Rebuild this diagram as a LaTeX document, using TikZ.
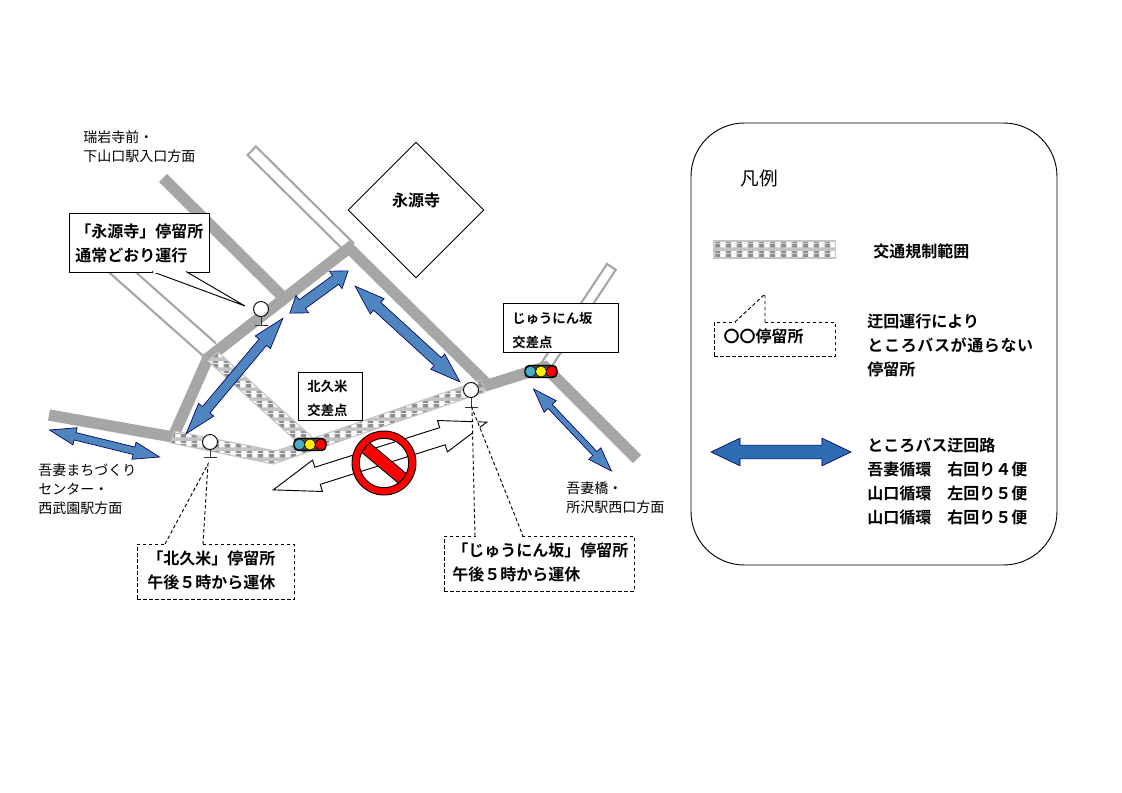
\documentclass[tikz,border=0pt]{standalone}
\usepackage{fontspec}
\setmainfont{Noto Sans CJK JP}[BoldFont=* Bold]
\usetikzlibrary{shapes.arrows, shapes.geometric, patterns, calc, positioning}
\definecolor{roadgray}{HTML}{A6A6A6}
\definecolor{checkgray}{HTML}{C4C4C4}
\definecolor{checkdark}{HTML}{8E8E8E}
\definecolor{detourblue}{HTML}{4F86C0}
\definecolor{legendblue}{HTML}{2E6DB4}
\definecolor{lampblue}{HTML}{4BACC6}
\pgfdeclarepatterninherentlycolored{roadcheck}{\pgfpointorigin}{\pgfpoint{8pt}{7.5pt}}{\pgfpoint{8pt}{7.5pt}}{
	\pgfsetfillcolor{checkgray}
	\pgfpathrectangle{\pgfpointorigin}{\pgfpoint{8pt}{7.5pt}}
	\pgfusepath{fill}
	\pgfsetfillcolor{checkdark}
	\pgfpathrectangle{\pgfpoint{0.2pt}{4.5pt}}{\pgfpoint{3.6pt}{3pt}}
	\pgfpathrectangle{\pgfpoint{0.2pt}{0pt}}{\pgfpoint{3.6pt}{1.5pt}}
	\pgfusepath{fill}
	\pgfsetfillcolor{white}
	\pgfpathrectangle{\pgfpoint{4.2pt}{4.5pt}}{\pgfpoint{3.6pt}{3pt}}
	\pgfpathrectangle{\pgfpoint{4.2pt}{0pt}}{\pgfpoint{3.6pt}{1.5pt}}
	\pgfusepath{fill}
}
\tikzset{
	road/.style={line width=8.5pt, roadgray, line join=miter},
	sideroad/.style={line width=#1, roadgray, postaction={draw, white, line width=#1-3.4pt, shorten <=1.7pt}},
	checked/.style={pattern=roadcheck, draw=checkgray, line width=.8pt},
	detour/.style={double arrow, draw=black!60!blue, fill=detourblue, inner xsep=0pt, inner ysep=#1, line width=.5pt},
	stopdash/.style={dash pattern=on 2.6pt off 1.9pt},
	placelabel/.style={font=\fontsize{10.5}{14.25}\selectfont, align=left, inner sep=0pt, anchor=west},
	boldlabel/.style={font=\bfseries\fontsize{12}{18}\selectfont, align=left, inner sep=0pt, anchor=west},
	stopbox/.style={draw, fill=white, anchor=north west, align=left, font=\bfseries\fontsize{12}{18}\selectfont, inner ysep=0pt},
	crossbox/.style={stopbox, font=\bfseries\fontsize{10}{18}\selectfont, text height=12pt},
	tail/.style={draw, fill=white},
	stopmark/.style={circle, draw, fill=white, minimum size=11.25pt, inner sep=0pt},
	signalbox/.style={rectangle, rounded corners=3pt, draw, line width=.8pt, fill=black!70, minimum width=24pt, minimum height=9pt, inner sep=0pt},
	lamp/.style={circle, draw=black, line width=.4pt, minimum size=8.2pt, inner sep=0pt}
}
\begin{document}
\begin{tikzpicture}[x=.75pt, y=-.75pt, line width=.7pt]
	\useasboundingbox (0,0) rectangle (1122,793);
	\draw[sideroad=10.5pt] (251,150) -- (350,248);
	\draw[sideroad=9.5pt] (612,266) -- (545,367);
	\draw[sideroad=15pt] (112,263) -- (210,350);
	\draw[road] (163,178) -- (288,302);
	\draw[road] (49,415) -- (173,437);
	\draw[road] (173,437) -- (208,358) -- (349,248) -- (488,385) -- (545,367) -- (637,459);
	\filldraw[checked] (174,431) -- (276,451) -- (481,380) -- (485,392) -- (273,464) -- (171,443) -- cycle;
	\filldraw[checked] (218,352) -- (208,361) -- (295,440) -- (313,438) -- cycle;

	\node[diamond, draw, fill=white, minimum width=102pt, minimum height=102pt, inner sep=0pt] (temple) at (416,210) {};
	\node[inner sep=0pt, font=\bfseries\fontsize{12}{18}\selectfont] (templename) at (416,200) {永源寺};

	\node[stopbox, minimum width=105pt, minimum height=44.25pt, inner xsep=4.5pt, text width=96pt] (eigenbox) at (69,213) {「永源寺」停留所\\通常どおり運行};
	\node[crossbox, minimum height=36pt, inner xsep=6.75pt, text width=34.5pt] (kitabox) at (298,372) {北久米\\交差点};
	\node[crossbox, minimum height=36.75pt, inner xsep=6.75pt, text width=72.75pt] (juninbox) at (503,303) {じゅうにん坂\\交差点};

	\node[detour=3.75pt, minimum height=54pt, double arrow head extend=4.1pt, double arrow tip angle=70, rotate=36] (detourA) at (319,292) {};
	\node[detour=3.4pt, minimum height=113pt, double arrow head extend=3.75pt, double arrow tip angle=35, rotate=50] (detourB) at (234.5,376) {};
	\node[detour=3.75pt, minimum height=106.5pt, double arrow head extend=3.75pt, double arrow tip angle=38, rotate=-42.4] (detourC) at (407.5,334) {};
	\node[detour=2.6pt, minimum height=85pt, double arrow head extend=3.75pt, double arrow tip angle=37, rotate=-13.8] (detourD) at (104.5,443.5) {};
	\node[detour=1.9pt, minimum height=85pt, double arrow head extend=4.1pt, double arrow tip angle=38, rotate=-46.5] (detourE) at (572.5,430) {};

	\node[double arrow, draw, fill=white, inner xsep=0pt, inner ysep=6.4pt, minimum height=168pt, double arrow head extend=5.6pt, double arrow tip angle=39, rotate=17.6] (closed) at (380,456) {};
	\node[rectangle, fill=red, minimum width=40pt, minimum height=8.5pt, inner sep=0pt, rotate=-40] (nobar) at (384,463) {};
	\draw (nobar.north west) -- (nobar.north east);
	\draw (nobar.south west) -- (nobar.south east);
	\filldraw[fill=red, even odd rule] (nobar.center) circle [radius=24pt] (nobar.center) circle [radius=18.5pt];

	\foreach \nm/\cx/\cy/\foot in {eigen/261/309/325, kita/210/442/457, junin/471/390/407} {
		\node[stopmark] (stop\nm) at (\cx,\cy) {};
		\coordinate (foot\nm) at (\cx,\foot);
		\draw[black!80] (stop\nm) -- (foot\nm);
		\draw[black!80] ($(foot\nm)+(-6.5,0)$) -- ($(foot\nm)+(6.5,0)$);
	}

	\foreach \nm/\cx/\cy in {kita/310/444.5, junin/541/371.5} {
		\node[signalbox] (signal\nm) at (\cx,\cy) {};
		\node[lamp, fill=lampblue] at ($(signal\nm)+(-10.5,0)$) {};
		\node[lamp, fill=yellow] at (signal\nm) {};
		\node[lamp, fill=red] at ($(signal\nm)+(10.5,0)$) {};
	}

	\node[stopbox, stopdash, minimum width=117.75pt, minimum height=41.25pt, inner xsep=7.5pt, text width=102.75pt, text depth=22pt] (kitastop) at (137,544) {「北久米」停留所\\午後５時から運休};
	\node[stopbox, stopdash, minimum width=142.5pt, minimum height=41.25pt, inner xsep=6pt, text width=130.5pt, text depth=22pt] (juninstop) at (444,536) {「じゅうにん坂」停留所\\午後５時から運休};

	\draw[tail] (152,271.5) -- (245,306) -- (186,271.5);
	\draw[white, line width=1.2pt] (152.5,272) -- (185.5,272);
	\draw[tail, stopdash] (165,544) -- (208,464) -- (203,544);
	\draw[white, line width=1.2pt] (166,544) -- (202,544);
	\draw[tail, stopdash] (475,536) -- (472,408) -- (523,536);
	\draw[white, line width=1.2pt] (476,536) -- (522,536);

	\node[placelabel] (eastlabel) at (83,146.5) {瑞岩寺前・\\下山口駅入口方面};
	\node[placelabel] (westlabel) at (38,489) {吾妻まちづくり\\センター・\\西武園駅方面};
	\node[placelabel] (southlabel) at (566,497.5) {吾妻橋・\\所沢駅西口方面};

	\draw[rounded corners=40pt] (691,123) rectangle (1057,565);
	\node[placelabel, font=\fontsize{14}{16}\selectfont] (legendtitle) at (740,178) {凡例};
	\filldraw[checked] (713.5,241) rectangle (835.5,258);
	\node[boldlabel] (legendzone) at (873,251) {交通規制範囲};
	\node[stopbox, stopdash, minimum width=90.75pt, minimum height=25.5pt, inner xsep=6.75pt, text width=77pt, text depth=5pt] (legendstop) at (714,322) {〇〇停留所};
	\draw[tail, stopdash] (735,322) -- (765,294) -- (765,322);
	\draw[white, line width=1.2pt] (736,322) -- (764,322);
	\node[boldlabel] (legendstoptext) at (867,345) {迂回運行により\\{\addfontfeature{LetterSpace=4}ところバスが通らない}\\停留所};
	\node[detour=4.9pt, draw=black!60!blue, fill=legendblue, minimum height=105pt, double arrow head extend=5.25pt, double arrow tip angle=51] (legendarrow) at (781,452) {};
	\node[boldlabel] (legendroute) at (867,481) {ところバス迂回路\\吾妻循環　右回り４便\\山口循環　左回り５便\\山口循環　右回り５便};
\end{tikzpicture}
\end{document}
